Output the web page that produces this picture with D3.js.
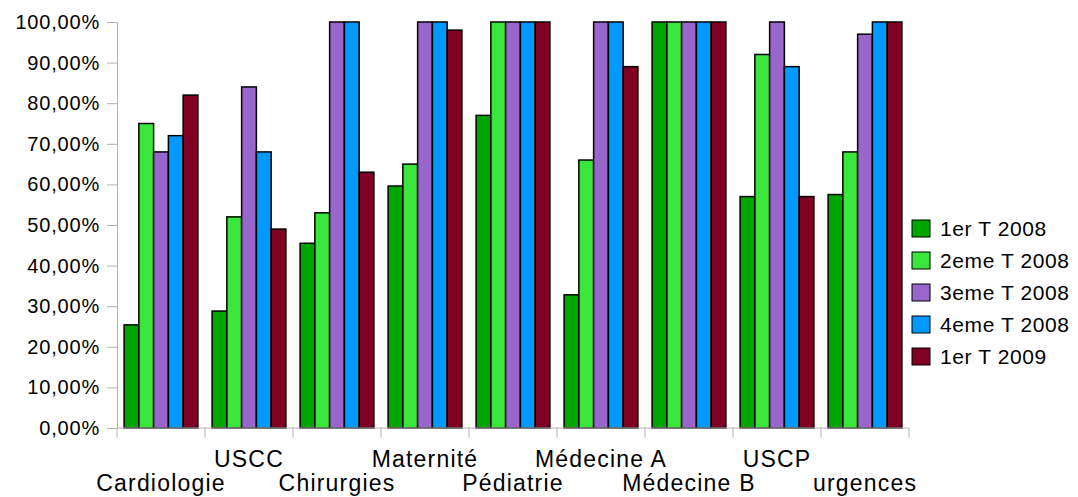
<!DOCTYPE html>
<html>
<head>
<meta charset="utf-8">
<script src="https://cdn.jsdelivr.net/npm/d3@7"></script>
<style>
  body { margin: 0; background: #fff; }
  text { font-family: "Liberation Sans", Arial, sans-serif; fill: #000; }
</style>
</head>
<body>
<svg id="chart"></svg>
<script>
const width = 1078;
const height = 497;

// Services (x categories)
const services = ["Cardiologie", "USCC", "Chirurgies", "Maternité", "Pédiatrie",
  "Médecine A", "Médecine B", "USCP", "urgences"];

// Quarters (series)
const quarters = ["1er T 2008", "2eme T 2008", "3eme T 2008", "4eme T 2008", "1er T 2009"];

// Values in % per quarter, one entry per service
const t1_2008 = [25.4, 28.8, 45.5, 59.6, 77, 32.8, 100, 57, 57.5];
const t2_2008 = [75, 52, 53, 65, 100, 66, 100, 92, 68];
const t3_2008 = [68, 84, 100, 100, 100, 100, 100, 100, 97];
const t4_2008 = [72, 68, 100, 100, 100, 100, 100, 89, 100];
const t1_2009 = [82, 49, 63, 98, 100, 89, 100, 57, 100];

const yTicks = [0, 10, 20, 30, 40, 50, 60, 70, 80, 90, 100];

const colors = ["#00a600", "#3ae63a", "#9966cc", "#0099ff", "#7f0021"];

const series = [t1_2008, t2_2008, t3_2008, t4_2008, t1_2009];

const margin = { top: 22, left: 117, right: 169, bottom: 69 };

const svg = d3.select("#chart").attr("width", width).attr("height", height);

// Outer scale: one band per service
const x0 = d3.scaleBand()
  .domain(services)
  .range([margin.left, width - margin.right])
  .padding(0);

// Inner scale: one band per quarter inside the service
const x1 = d3.scaleBand()
  .domain(quarters)
  .range([0, x0.bandwidth()])
  .paddingInner(0)
  .paddingOuter(0.48);

const y = d3.scaleLinear()
  .domain([0, 100])
  .range([height - margin.bottom, margin.top]);

const color = d3.scaleOrdinal().domain(quarters).range(colors);

// Y axis
const yAxis = svg.append("g")
  .attr("transform", `translate(${margin.left},0)`)
  .call(d3.axisLeft(y)
    .tickValues(yTicks)
    .tickSize(10)
    .tickPadding(7)
    .tickFormat(d => d.toFixed(2).replace(".", ",") + "%"));
yAxis.select(".domain").attr("stroke", "#b3b3b3");
yAxis.selectAll(".tick line").attr("stroke", "#b3b3b3");
yAxis.selectAll(".tick text")
  .attr("font-size", 20)
  .attr("letter-spacing", 0.8)
  .attr("font-family", "Liberation Sans, Arial, sans-serif");

// Bars
const rows = services.map((s, i) => ({ service: s, values: series.map((v, j) => ({ key: quarters[j], value: v[i] })) }));

svg.append("g")
  .selectAll("g")
  .data(rows)
  .join("g")
  .attr("transform", d => `translate(${x0(d.service)},0)`)
  .selectAll("rect")
  .data(d => d.values)
  .join("rect")
  .attr("x", d => x1(d.key))
  .attr("y", d => y(d.value))
  .attr("width", x1.bandwidth())
  .attr("height", d => y(0) - y(d.value))
  .attr("fill", d => color(d.key))
  .attr("stroke", "#000")
  .attr("stroke-width", 1.5);

// X axis: line + boundary ticks
const xg = svg.append("g");
xg.append("line")
  .attr("x1", x0.range()[0]).attr("x2", x0.range()[1])
  .attr("y1", y(0)).attr("y2", y(0))
  .attr("stroke", "#b3b3b3");
const bounds = services.map(s => x0(s)).concat([x0.range()[1]]);
xg.selectAll("line.tick")
  .data(bounds)
  .join("line")
  .attr("class", "tick")
  .attr("x1", d => d).attr("x2", d => d)
  .attr("y1", y(0)).attr("y2", y(0) + 10)
  .attr("stroke", "#b3b3b3");

// Staggered category labels
xg.selectAll("text")
  .data(services)
  .join("text")
  .attr("x", d => x0(d) + x0.bandwidth() / 2)
  .attr("y", (d, i) => i % 2 === 0 ? 491 : 467)
  .attr("text-anchor", "middle")
  .attr("font-size", 23)
  .attr("letter-spacing", 1.2)
  .text(d => d);

// Legend
const legend = svg.append("g")
  .attr("transform", "translate(912,220)");

const item = legend.selectAll("g")
  .data(quarters)
  .join("g")
  .attr("transform", (d, i) => `translate(0,${i * 32})`);

item.append("rect")
  .attr("width", 18)
  .attr("height", 17)
  .attr("fill", d => color(d))
  .attr("stroke", "#000")
  .attr("stroke-width", 1);

item.append("text")
  .attr("x", 28)
  .attr("y", 16)
  .attr("font-size", 21)
  .attr("letter-spacing", 0.6)
  .text(d => d);
</script>
</body>
</html>
